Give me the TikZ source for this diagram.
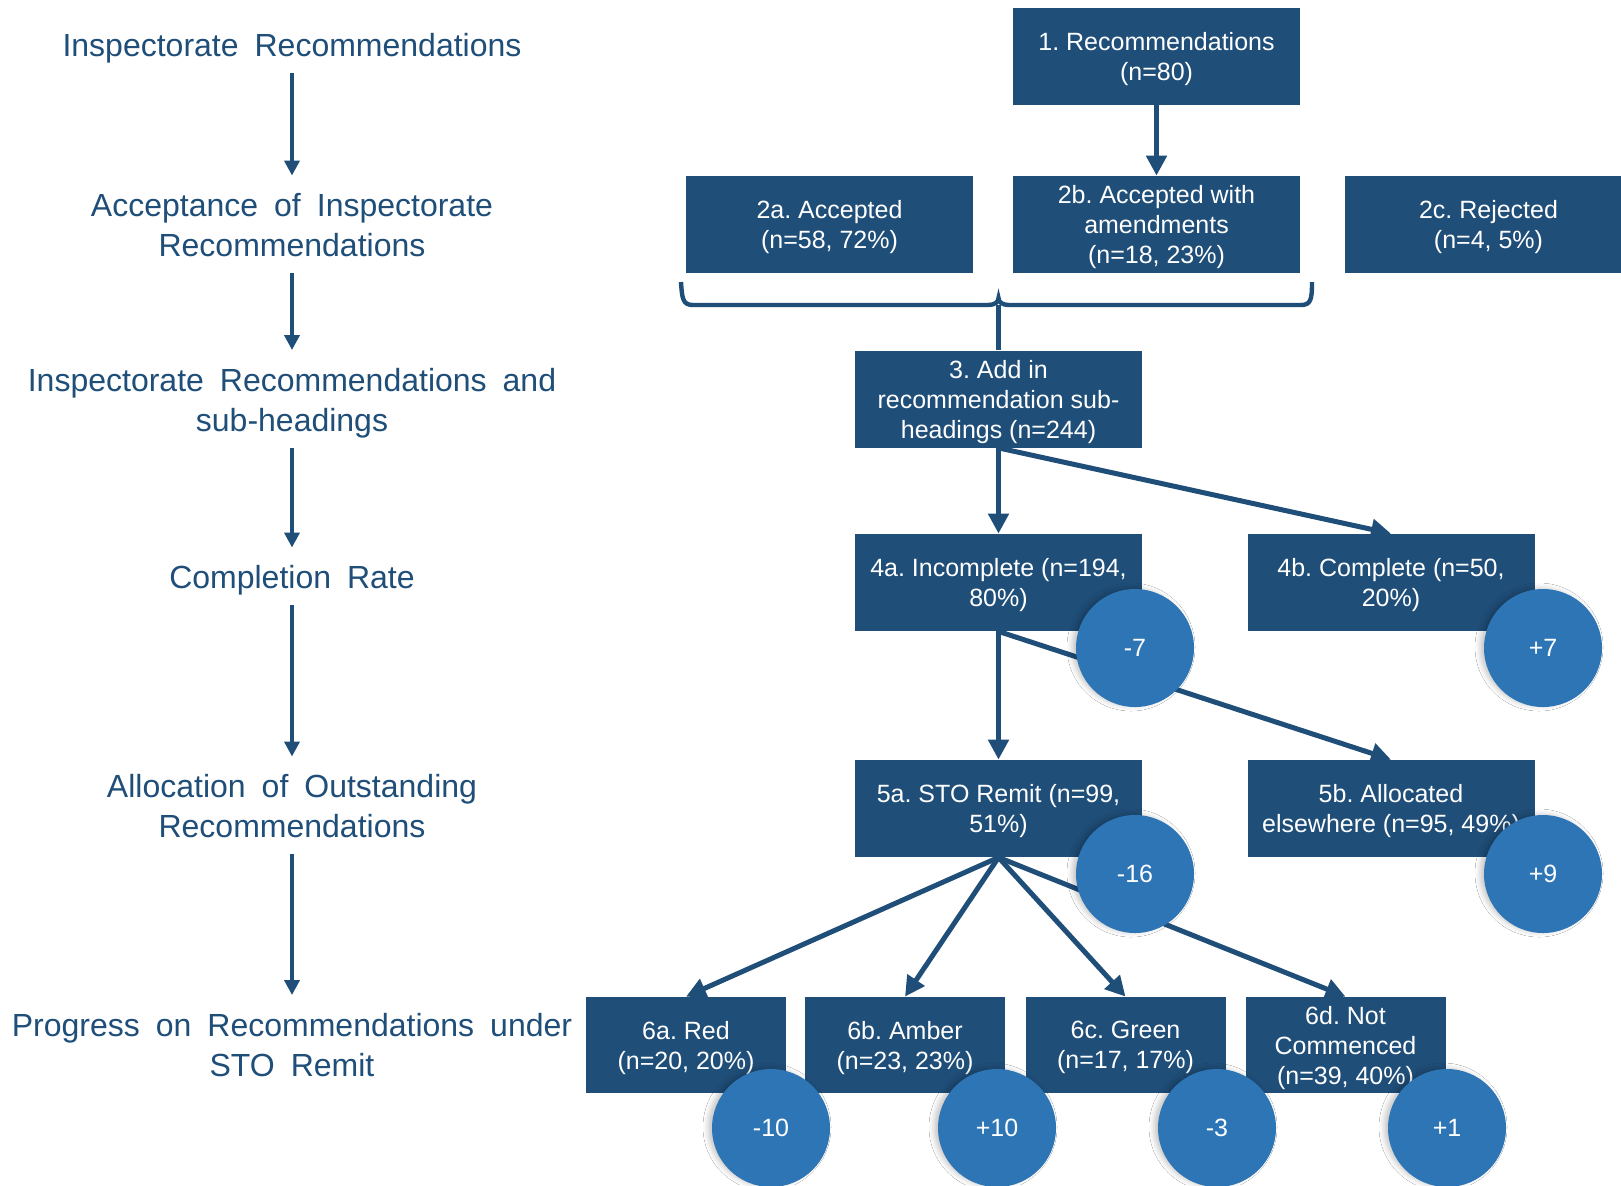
\documentclass[tikz,border=0pt]{standalone}
\usepackage{fontspec}
\setmainfont{Liberation Sans}
\newfontfamily\labfam{Liberation Sans}[WordSpace=1.8]
\usetikzlibrary{arrows.meta,shadows.blur}
\definecolor{boxblue}{HTML}{1F4E79}
\definecolor{circblue}{HTML}{2E75B6}
\frenchspacing
\begin{document}
\begin{tikzpicture}[x=0.5pt,y=-0.5pt,
  box/.style={fill=boxblue, text=white, minimum width=143.5pt, minimum height=48.5pt,
    inner sep=1pt, align=center, text depth=0pt, font=\fontsize{12.5}{15}\selectfont},
  smallbox/.style={box, minimum width=100pt, minimum height=48pt},
  delta/.style={circle, fill=circblue, text=white, minimum size=59pt, inner sep=0pt,
    font=\fontsize{12.5}{15}\selectfont,
    blur shadow={shadow xshift=-2pt, shadow yshift=0.5pt, shadow blur radius=2.5pt, shadow opacity=22}},
  lab/.style={text=boxblue, align=center, inner sep=0pt, text depth=0pt,
    font=\labfam\fontsize{16}{20}\selectfont},
  flow/.style={draw=boxblue, line width=2.5pt, -{Triangle[width=10pt,length=10pt]}},
  side/.style={draw=boxblue, line width=2pt, -{Triangle[width=7.5pt,length=7.5pt]},
    shorten <=8pt, shorten >=8.75pt},
  bracket/.style={draw=boxblue, line width=2.2pt}
]
\useasboundingbox (0,0) rectangle (1621,1185);
\fill[white] (0,0) rectangle (1621,1185);

% left column labels
\node[lab] (l1) at (292,44.5) {Inspectorate Recommendations};
\node[lab] (l2) at (292,225) {Acceptance of Inspectorate\\Recommendations};
\node[lab] (l3) at (292,399.5) {Inspectorate Recommendations and\\sub-headings};
\node[lab] (l4) at (292,577) {Completion Rate};
\node[lab] (l5) at (292,806) {Allocation of Outstanding\\Recommendations};
\node[lab] (l6) at (292,1044.5) {Progress on Recommendations under\\STO Remit};

\draw[side] (l1.south) -- (l2.north);
\draw[side] (l2.south) -- (l3.north);
\draw[side] (l3.south) -- (l4.north);
\draw[side] (l4.south) -- (l5.north);
\draw[side] (l5.south) -- (l6.north);

% boxes
\node[box] (b1) at (1156.5,56.5) {1. Recommendations\\(n=80)};
\node[box] (b2a) at (829.5,224.5) {2a. Accepted\\(n=58, 72\%)};
\node[box] (b2b) at (1156.5,224.5) {2b. Accepted with\\amendments\\(n=18, 23\%)};
\node[box] (b2c) at (1488.5,224.5) {2c. Rejected\\(n=4, 5\%)};
\node[box] (b3) at (998.5,399) {3. Add in\\recommendation sub-\\headings (n=244)};
\node[box] (b4a) at (998.5,582.5) {4a. Incomplete (n=194,\\80\%)};
\node[box] (b4b) at (1391,582.5) {4b. Complete (n=50,\\20\%)};
\node[box] (b5a) at (998.5,808.5) {5a. STO Remit (n=99,\\51\%)};
\node[box] (b5b) at (1391,808.5) {5b. Allocated\\elsewhere (n=95, 49\%)};
\node[smallbox] (b6a) at (686,1045) {6a. Red\\(n=20, 20\%)};
\node[smallbox] (b6b) at (905,1045) {6b. Amber\\(n=23, 23\%)};
\node[smallbox] (b6c) at (1125.5,1045) {6c. Green\\(n=17, 17\%)};
\node[smallbox] (b6d) at (1345.5,1045) {6d. Not\\Commenced\\(n=39, 40\%)};

% bracket joining 2a and 2b
\coordinate (brL) at (681,282);
\coordinate (brR) at (1312,282);
\coordinate (brM) at (998.5,305);
\draw[bracket] (brL) .. controls (682,299) and (683,305) .. (693,305) -- (988,305)
  .. controls (995,305) and (998.5,302) .. (998.5,298)
  .. controls (998.5,302) and (1002,305) .. (1009,305) -- (1301,305)
  .. controls (1311,305) and (1312,299) .. (brR);
\draw[bracket] (brM) -- (b3.north);

% connectors
\draw[flow] (b1.south) -- (b2b.north);
\draw[flow] (b3.south) -- (b4a.north);
\draw[flow] (b3.south) -- (b4b.north);
\draw[flow] (b4a.south) -- (b5a.north);
\draw[flow] (b4a.south) -- (b5b.north);
\draw[flow] (b5a.south) -- (b6a.north);
\draw[flow] (b5a.south) -- (b6b.north);
\draw[flow] (b5a.south) -- (b6c.north);
\draw[flow] (b5a.south) -- (b6d.north);

% change circles
\node[delta] (c4a) at (1135,648) {-7};
\node[delta] (c4b) at (1543,648) {+7};
\node[delta] (c5a) at (1135,874) {-16};
\node[delta] (c5b) at (1543,874) {+9};
\node[delta] (c6a) at (771,1128) {-10};
\node[delta] (c6b) at (997,1128) {+10};
\node[delta] (c6c) at (1217,1128) {-3};
\node[delta] (c6d) at (1447,1128) {+1};
\end{tikzpicture}
\end{document}
